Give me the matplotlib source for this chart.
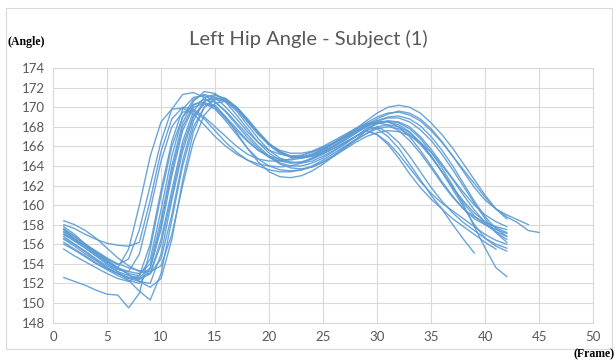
import matplotlib.pyplot as plt
from matplotlib.patches import Rectangle

# one list per recorded trial, values at frames 1, 2, 3, ...
trials = [
    [157.5, 156.5, 155.8, 155.0, 154.3, 153.6, 155.5, 160.0, 165.0, 168.5, 169.8, 169.9, 169.3, 168.2,
     167.0, 166.0, 165.2, 164.6, 164.2, 164.0, 163.9, 164.0, 164.3, 164.8, 165.3, 165.8, 166.4, 167.0,
     167.6, 167.2, 166.4, 165.2, 163.8, 162.4, 161.2, 160.2, 159.4, 158.6, 157.8, 157.0, 156.4, 156.0],
    [158.0, 157.6, 157.0, 156.5, 156.1, 155.9, 155.8, 156.2, 160.5, 165.5, 168.8, 170.0, 169.8, 169.0,
     168.0, 167.0, 166.0, 165.2, 164.7, 164.5, 164.5, 164.7, 165.0, 165.5, 166.0, 166.6, 167.2, 167.8,
     168.2, 168.4, 168.2, 167.6, 166.6, 165.3, 163.8, 162.2, 160.8, 159.6, 158.8, 158.2, 157.8, 157.5],
    [152.6, 152.2, 151.8, 151.3, 150.9, 150.8, 149.5, 151.0, 155.5, 161.0, 166.0, 169.0, 170.3, 170.5,
     170.0, 169.0, 167.8, 166.6, 165.6, 164.9, 164.5, 164.3, 164.4, 164.7, 165.2, 165.8, 166.4, 167.0,
     167.6, 168.0, 168.2, 168.0, 167.4, 166.4, 165.0, 163.4, 161.6, 159.8, 158.0, 156.6, 155.8, 155.3],
    [157.0, 156.3, 155.6, 154.8, 154.0, 153.2, 152.3, 151.2, 150.3, 153.0, 158.5, 164.0, 168.0, 170.0,
     170.8, 170.6, 169.6, 168.2, 166.8, 165.6, 164.8, 164.4, 164.3, 164.5, 165.0, 165.6, 166.3, 167.0,
     167.7, 168.3, 168.6, 168.5, 168.0, 167.0, 165.7, 164.2, 162.7, 161.3, 160.0, 159.0, 158.3, 157.8],
    [156.8, 156.0, 155.2, 154.4, 153.6, 153.0, 152.6, 152.5, 153.0, 156.5, 161.5, 166.5, 169.6, 171.0,
     171.3, 170.8, 169.8, 168.5, 167.2, 166.2, 165.6, 165.3, 165.3, 165.5, 165.9, 166.4, 167.0, 167.7,
     168.4, 169.0, 169.4, 169.5, 169.2, 168.6, 167.6, 166.4, 165.0, 163.6, 162.2, 160.8, 159.6, 158.8,
     158.2, 157.4, 157.2],
    [157.3, 156.6, 155.8, 155.0, 154.2, 153.5, 153.0, 152.8, 154.5, 159.5, 165.0, 169.0, 170.8, 171.3,
     171.0, 170.0, 168.8, 167.5, 166.4, 165.6, 165.2, 165.0, 165.1, 165.4, 165.8, 166.3, 166.9, 167.5,
     168.2, 168.8, 169.3, 169.6, 169.4, 168.8, 167.8, 166.5, 165.0, 163.4, 161.8, 160.5, 159.6, 159.0,
     158.5, 158.0],
    [156.5, 155.8, 155.0, 154.3, 153.6, 153.0, 152.5, 152.2, 152.0, 155.0, 160.5, 165.5, 169.0, 170.6,
     171.0, 170.7, 169.8, 168.6, 167.4, 166.3, 165.5, 165.0, 164.9, 165.1, 165.6, 166.3, 167.0, 167.8,
     168.6, 169.4, 170.0, 170.2, 170.0, 169.4, 168.4, 167.2, 165.8, 164.2, 162.6, 161.0, 159.6, 158.6],
    [156.0, 155.4, 154.7, 154.0, 153.4, 152.8, 152.3, 152.0, 153.5, 158.0, 163.5, 168.0, 170.2, 170.8,
     170.5, 169.6, 168.4, 167.2, 166.0, 165.0, 164.3, 164.0, 164.0, 164.3, 164.8, 165.5, 166.2, 167.0,
     167.8, 168.4, 168.6, 168.4, 167.8, 166.8, 165.4, 163.8, 162.0, 160.0, 157.8, 155.6, 153.6, 152.7],
    [157.8, 157.0, 156.0, 155.0, 154.2, 153.6, 153.2, 153.0, 154.0, 158.5, 164.0, 168.4, 170.6, 171.6,
     171.4, 170.5, 169.2, 167.8, 166.4, 165.3, 164.6, 164.3, 164.4, 164.8, 165.4, 166.0, 166.7, 167.4,
     168.0, 167.8, 167.0, 165.8, 164.2, 162.6, 161.0, 159.6, 158.0, 156.5, 155.1],
    [155.5, 154.8, 154.2, 153.6, 153.0, 152.5, 152.2, 152.8, 156.0, 161.5, 166.5, 169.8, 171.0, 171.2,
     170.6, 169.5, 168.2, 166.9, 165.8, 164.9, 164.2, 163.8, 163.7, 163.9, 164.4, 165.1, 165.9, 166.7,
     167.6, 167.2, 166.2, 164.8, 163.2, 161.8, 160.6, 159.6, 158.6, 157.8, 157.0, 156.2, 155.5],
    [156.2, 155.5, 154.8, 154.1, 153.5, 153.0, 152.6, 152.4, 153.0, 156.0, 161.0, 166.0, 169.2, 170.3,
     170.2, 169.0, 167.4, 165.8, 164.4, 163.4, 162.9, 162.8, 163.0, 163.5, 164.2, 165.0, 165.8, 166.6,
     167.3, 167.8, 168.0, 167.8, 167.2, 166.2, 164.9, 163.4, 161.8, 160.2, 158.9, 158.0, 157.3, 156.8],
    [157.0, 156.5, 155.9, 155.2, 154.5, 153.9, 154.5, 157.5, 162.0, 166.5, 169.8, 171.3, 171.5, 171.0,
     170.0, 168.8, 167.6, 166.5, 165.6, 165.0, 164.7, 164.6, 164.8, 165.2, 165.7, 166.3, 167.0, 167.6,
     168.1, 168.4, 168.5, 168.2, 167.5, 166.4, 165.0, 163.4, 161.8, 160.4, 159.2, 158.3, 157.7, 157.2],
    [157.5, 156.8, 156.0, 155.3, 154.6, 154.0, 153.6, 153.3, 153.2, 153.8, 157.0, 162.0, 166.5, 169.2,
     170.4, 170.6, 170.0, 168.8, 167.4, 166.2, 165.4, 165.0, 164.9, 165.2, 165.7, 166.4, 167.1, 167.8,
     168.3, 168.6, 168.5, 168.0, 167.0, 165.6, 164.0, 162.4, 160.9, 159.6, 158.6, 158.0, 157.5, 157.1],
    [156.6, 156.0, 155.3, 154.5, 153.8, 153.2, 152.8, 152.6, 153.6, 157.5, 163.0, 167.6, 170.0, 170.4,
     169.8, 168.6, 167.2, 165.8, 164.7, 164.0, 163.6, 163.5, 163.6, 163.9, 164.4, 165.0, 165.7, 166.4,
     167.0, 167.4, 167.6, 167.5, 167.1, 166.4, 165.4, 164.1, 162.6, 161.0, 159.5, 158.2, 157.2, 156.5],
    [158.4, 158.0, 157.4, 156.6, 155.6, 154.6, 153.8, 153.2, 153.0, 154.5, 159.0, 164.5, 168.6, 170.6,
     171.2, 170.9, 170.0, 168.7, 167.3, 166.1, 165.3, 164.9, 164.8, 165.0, 165.5, 166.1, 166.8, 167.5,
     168.1, 168.6, 168.9, 168.9, 168.5, 167.7, 166.6, 165.2, 163.6, 161.9, 160.2, 158.6, 157.2, 156.2],
    [157.2, 156.4, 155.6, 154.8, 154.0, 153.4, 153.2, 155.0, 159.5, 164.5, 168.0, 169.5, 169.6, 168.8,
     167.6, 166.4, 165.4, 164.6, 164.0, 163.6, 163.4, 163.4, 163.6, 164.0, 164.6, 165.3, 166.0, 166.7,
     167.3, 168.0, 167.4, 166.4, 165.0, 163.4, 161.8, 160.4, 159.2, 158.2, 157.4, 156.6, 156.0, 155.6],
    [157.6, 156.8, 156.0, 155.2, 154.4, 153.6, 152.9, 152.2, 151.6, 152.5, 156.5, 162.5, 167.5, 170.0,
     170.9, 170.8, 170.0, 168.8, 167.5, 166.3, 165.4, 164.9, 164.8, 165.0, 165.4, 166.0, 166.6, 167.3,
     168.0, 168.6, 169.0, 169.1, 168.8, 168.1, 167.0, 165.6, 164.0, 162.2, 160.4, 158.8, 157.6, 156.8],
]

x_ticks = [0, 5, 10, 15, 20, 25, 30, 35, 40, 45, 50]
y_ticks = [148, 150, 152, 154, 156, 158, 160, 162, 164, 166, 168, 170, 172, 174]

fig = plt.figure(figsize=(6.16, 3.62), dpi=100)
ax = fig.add_axes([0.086, 0.109, 0.877, 0.703])

for vals in trials:
    frames = list(range(1, len(vals) + 1))
    ax.plot(frames, vals, color='#5B9BD5', linewidth=1.0, alpha=0.9)

ax.set_xlim(0, 50)
ax.set_ylim(148, 174)
ax.set_xticks(x_ticks)
ax.set_yticks(y_ticks)
ax.grid(True, color='#D9D9D9', linewidth=0.8)
ax.set_axisbelow(True)
ax.tick_params(length=0, labelsize=9.5, labelcolor='#595959', pad=6)
for lab in ax.get_xticklabels() + ax.get_yticklabels():
    lab.set_family('Lato')
for s in ax.spines.values():
    s.set_color('#D9D9D9')
    s.set_linewidth(0.8)

fig.text(0.5, 0.893, 'Left Hip Angle - Subject (1)', ha='center', va='center',
         fontsize=14.5, color='#595959', family='Lato')
fig.text(0.012, 0.883, '(Angle)', ha='left', va='center', fontsize=8.5,
         fontweight='bold', family='Liberation Serif')
fig.text(0.997, 0.02, '(Frame)', ha='right', va='center', fontsize=8.5,
         fontweight='bold', family='Liberation Serif')

# light outline round the chart area
fig.patches.append(Rectangle((0.01, 0.035), 0.983, 0.943, transform=fig.transFigure,
                             fill=False, edgecolor='#D9D9D9', linewidth=0.8))

fig.savefig('out.png', dpi=100)
